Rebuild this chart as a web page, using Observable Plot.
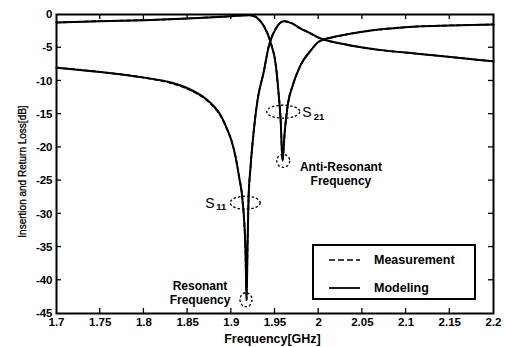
<!DOCTYPE html>
<html><head><meta charset="utf-8">
<script src="https://cdn.jsdelivr.net/npm/d3@7"></script>
<script src="https://cdn.jsdelivr.net/npm/@observablehq/plot@0.6"></script>
<style>
body{margin:0;background:#fff;}
#chart{position:relative;width:505px;height:347px;font-family:"Liberation Sans",Arial,sans-serif;}
#legend{position:absolute;left:312px;top:244px;width:164px;height:56px;border:2px solid #000;background:#fff;box-sizing:border-box;font-weight:bold;font-size:12.5px;}
#legend .row{position:absolute;left:14px;display:flex;align-items:center;}
#legend svg{margin-right:13px;}
</style></head><body><div id="chart"></div>
<script>
// Frequency axis (GHz) and values (dB)
const xTicks = [1.7,1.75,1.8,1.85,1.9,1.95,2.0,2.05,2.1,2.15,2.2];
const yTicks = [0,-5,-10,-15,-20,-25,-30,-35,-40,-45];

const s11Freq  = [1.70,1.75,1.80,1.83,1.85,1.87,1.88,1.888,1.895,1.90,1.905,1.909,1.9128,1.9162,1.9175,1.9185,1.9197,1.922,1.9254,1.93,1.937,1.943,1.951,1.96,1.969,1.979,1.99,2.0,2.005,2.017,2.036,2.074,2.113,2.151,2.2];
const s11Model = [-8.0,-8.65,-9.5,-10.2,-11.1,-12.6,-13.8,-15.2,-17.2,-18.9,-21.5,-24.5,-27.9,-35.4,-43.0,-35.4,-27.9,-23.0,-17.9,-12.9,-8.7,-4.7,-2.1,-1.0,-1.3,-2.1,-2.8,-3.5,-3.75,-4.15,-4.65,-5.4,-5.9,-6.4,-7.05];
const s11Meas  = [-8.0,-8.65,-9.5,-10.3,-11.2,-12.7,-13.9,-15.3,-17.2,-18.9,-21.5,-24.5,-27.9,-35.4,-43.0,-35.4,-27.9,-23.0,-17.9,-12.9,-8.7,-4.7,-2.1,-1.0,-1.3,-2.1,-2.8,-3.5,-3.75,-4.15,-4.65,-5.4,-5.9,-6.4,-7.05];

const s21Freq  = [1.70,1.75,1.80,1.85,1.88,1.90,1.92,1.925,1.932,1.937,1.945,1.951,1.954,1.9565,1.9586,1.961,1.965,1.970,1.979,1.991,2.0,2.005,2.017,2.036,2.074,2.113,2.15,2.2];
const s21Model = [-1.2,-1.0,-0.85,-0.6,-0.4,-0.25,-0.1,-0.2,-0.8,-1.7,-4.2,-7.7,-11.7,-16.0,-22.0,-17.9,-13.3,-10.8,-7.7,-5.4,-4.1,-3.8,-3.4,-2.9,-2.2,-1.8,-1.65,-1.5];
const s21Meas  = s21Model.slice();

// Annotation marks: rings [freq, dB], labels
const ringFreq = [1.9165,1.960,1.9174,1.960];
const ringDb   = [-28.4,-14.7,-43.0,-22.1];
const labelText = ["Resonant","Frequency","Anti-Resonant","Frequency"];
const labelFreq = [1.8648,1.8648,2.026,2.026];
const labelDb   = [-41.0,-43.1,-23.0,-25.2];
const sName = ["S","S"], sSub = ["11","21"];
const sFreq = [1.876,1.987], sDb = [-28.4,-14.8];
const subFreq = [1.889,2.001], subDb = [-29.0,-15.4];

const rows = (fs, vs) => fs.map((f, i) => ({f, db: vs[i]}));
const curve = "monotone-x";
const font = '"Liberation Sans", Arial, sans-serif';

function decorations(index, {x, y}, values, dims) {
  const {width, height, marginLeft: l, marginRight, marginTop: t, marginBottom} = dims;
  const r = width - marginRight, b = height - marginBottom;
  const g = d3.create("svg:g");
  const tk = g.append("g").attr("stroke", "#000").attr("stroke-width", 1.3);
  for (const v of xTicks.slice(1, -1)) {
    const px = x(v);
    tk.append("line").attr("x1", px).attr("x2", px).attr("y1", b).attr("y2", b - 5);
    tk.append("line").attr("x1", px).attr("x2", px).attr("y1", t).attr("y2", t + 5);
  }
  for (const v of yTicks.slice(1, -1)) {
    const py = y(v);
    tk.append("line").attr("x1", l).attr("x2", l + 5).attr("y1", py).attr("y2", py);
    tk.append("line").attr("x1", r).attr("x2", r - 5).attr("y1", py).attr("y2", py);
  }
  const rx = [15, 16.5, 6, 6.5], ry = [6.5, 6.5, 7, 6.5];
  ringFreq.forEach((f, i) => {
    g.append("ellipse").attr("cx", x(f)).attr("cy", y(ringDb[i])).attr("rx", rx[i]).attr("ry", ry[i])
      .attr("fill", "none").attr("stroke", "#000").attr("stroke-width", 1.3).attr("stroke-dasharray", "2.5,2");
  });
  const tg = g.append("g").attr("font-family", font).attr("font-weight", "bold").attr("fill", "#000");
  labelText.forEach((s, i) => {
    tg.append("text").attr("x", x(labelFreq[i])).attr("y", y(labelDb[i])).attr("text-anchor", "middle")
      .attr("dominant-baseline", "central").attr("font-size", 12).text(s);
  });
  sName.forEach((s, i) => {
    tg.append("text").attr("x", x(sFreq[i])).attr("y", y(sDb[i])).attr("text-anchor", "middle")
      .attr("dominant-baseline", "central").attr("font-size", 14).attr("font-weight", "normal").text(s);
    tg.append("text").attr("x", x(subFreq[i])).attr("y", y(subDb[i])).attr("text-anchor", "middle")
      .attr("dominant-baseline", "central").attr("font-size", 9.5).text(sSub[i]);
  });
  tg.append("text").attr("x", (l + r) / 2 - 2).attr("y", height - 8).attr("text-anchor", "middle")
    .attr("dominant-baseline", "central").attr("font-size", 12.5).text("Frequency[GHz]");
  tg.append("text").attr("transform", `translate(22,${(t + b) / 2 + 8}) rotate(-90)`).attr("text-anchor", "middle")
    .attr("dominant-baseline", "central").attr("font-size", 10).attr("font-weight", "normal")
    .attr("stroke", "#000").attr("stroke-width", 0.3).text("Insertion and Return Loss[dB]");
  return g.node();
}

const fmt = d => String(+d.toFixed(2));
const chart = Plot.plot({
  width: 505, height: 347,
  marginLeft: 56, marginRight: 12, marginTop: 14, marginBottom: 34,
  x: {domain: [1.7, 2.2]},
  y: {domain: [-45, 0]},
  style: {fontFamily: font, color: "#000", background: "#fff"},
  marks: [
    Plot.axisX(xTicks, {tickSize: 0, tickPadding: 4, tickFormat: fmt, label: null, fontSize: 11.5, fontWeight: "bold"}),
    Plot.axisY(yTicks, {tickSize: 0, tickPadding: 4, tickFormat: fmt, label: null, fontSize: 11.5, fontWeight: "bold"}),
    Plot.line(rows(s11Freq, s11Meas), {x: "f", y: "db", stroke: "#000", strokeWidth: 1.8, strokeDasharray: "4,3", curve}),
    Plot.line(rows(s21Freq, s21Meas), {x: "f", y: "db", stroke: "#000", strokeWidth: 1.8, strokeDasharray: "4,3", curve}),
    Plot.line(rows(s11Freq, s11Model), {x: "f", y: "db", stroke: "#000", strokeWidth: 2, curve}),
    Plot.line(rows(s21Freq, s21Model), {x: "f", y: "db", stroke: "#000", strokeWidth: 2, curve}),
    decorations,
    Plot.frame({stroke: "#000", strokeWidth: 2})
  ]
});
const host = document.getElementById("chart");
host.appendChild(chart);
const legend = document.createElement("div");
legend.id = "legend";
legend.innerHTML =
  '<div class="row" style="top:5px"><svg width="33" height="18"><line x1="1" x2="32" y1="9" y2="9" stroke="#000" stroke-width="1.6" stroke-dasharray="6,3"/></svg><span>Measurement</span></div>' +
  '<div class="row" style="top:33px"><svg width="33" height="18"><line x1="1" x2="32" y1="9" y2="9" stroke="#000" stroke-width="1.8"/></svg><span>Modeling</span></div>';
host.appendChild(legend);
</script></body></html>
